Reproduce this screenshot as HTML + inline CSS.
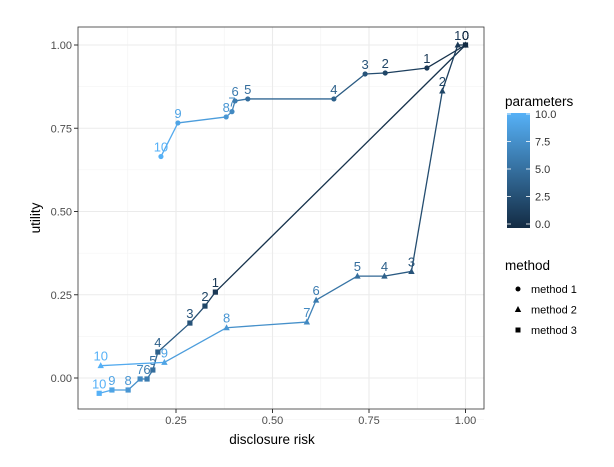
<!DOCTYPE html>
<html><head><meta charset="utf-8"><style>
body{margin:0;background:#fff;font-family:"Liberation Sans",sans-serif}
svg text{font-family:"Liberation Sans",sans-serif}
</style></head><body>
<svg width="614" height="462" id="c"></svg>
<script>
const params=[10,9,8,7,6,5,4,3,2,1,0];
const m1x=[0.211,0.255,0.380,0.395,0.403,0.436,0.659,0.740,0.792,0.900,1.0];
const m1y=[0.665,0.766,0.784,0.800,0.832,0.838,0.838,0.913,0.916,0.931,1.0];
const m2x=[0.055,0.220,0.381,0.589,0.613,0.720,0.790,0.860,0.940,0.980,1.0];
const m2y=[0.037,0.047,0.151,0.168,0.234,0.306,0.306,0.320,0.862,1.0,1.0];
const m3x=[0.051,0.084,0.126,0.157,0.175,0.190,0.203,0.286,0.325,0.352,1.0];
const m3y=[-0.046,-0.036,-0.036,-0.003,-0.003,0.024,0.078,0.165,0.216,0.258,1.0];
const xTicks=[0.25,0.5,0.75,1.0];
const yTicks=[0,0.25,0.5,0.75,1.0];
const xLabels=["0.25","0.50","0.75","1.00"];
const yLabels=["0.00","0.25","0.50","0.75","1.00"];
const cTicks=["0.0","2.5","5.0","7.5","10.0"];
const L=78,R=484,T=27,B=409;
const X=v=>79.5+386*v, Y=v=>378-333*v;
const NS="http://www.w3.org/2000/svg";
const svg=document.getElementById('c');
function mk(t,a,p){const e=document.createElementNS(NS,t);for(const k in a)e.setAttribute(k,a[k]);(p||svg).appendChild(e);return e;}
function col(p){const t=p/10;const a=[0x13,0x2B,0x43],b=[0x56,0xB1,0xF7];return `rgb(${a.map((v,i)=>Math.round(v+(b[i]-v)*t)).join(',')})`;}
let e=mk('rect',{x:L,y:T,width:R-L,height:B-T,fill:'#fff'});

// minor grid
for(let v=0.125;v<1.1;v+=0.25){mk('line',{x1:X(v),x2:X(v),y1:T,y2:B,stroke:'#f2f2f2','stroke-width':0.6});}
for(let v=-0.125;v<1.1;v+=0.25){mk('line',{x1:L,x2:R,y1:Y(v),y2:Y(v),stroke:'#f2f2f2','stroke-width':0.6});}
xTicks.forEach((v,i)=>{mk('line',{x1:X(v),x2:X(v),y1:T,y2:B,stroke:'#ebebeb','stroke-width':1.1});
 mk('line',{x1:X(v),x2:X(v),y1:B,y2:B+4,stroke:'#333'});
 const t=mk('text',{x:X(v),y:B+15,'text-anchor':'middle','font-size':11,fill:'#4d4d4d'});t.textContent=xLabels[i];
 });
yTicks.forEach((v,i)=>{mk('line',{x1:L,x2:R,y1:Y(v),y2:Y(v),stroke:'#ebebeb','stroke-width':1.1});
 mk('line',{x1:L-4,x2:L,y1:Y(v),y2:Y(v),stroke:'#333'});
 const t=mk('text',{x:L-6,y:Y(v)+4,'text-anchor':'end','font-size':11,fill:'#4d4d4d'});t.textContent=yLabels[i];
 });
e=mk('rect',{x:L,y:T,width:R-L,height:B-T,fill:'none',stroke:'#333','stroke-width':0.8});
function series(xs,ys,shape,name){
 for(let i=0;i<xs.length-1;i++){
  mk('line',{x1:X(xs[i]),y1:Y(ys[i]),x2:X(xs[i+1]),y2:Y(ys[i+1]),stroke:col((params[i]+params[i+1])/2),'stroke-width':1.3});
 }
 xs.forEach((v,i)=>{const cx=X(v),cy=Y(ys[i]),c=col(params[i]);let m;
  if(shape==='c')m=mk('circle',{cx,cy,r:2.6,fill:c});
  else if(shape==='t')m=mk('polygon',{points:`${cx},${cy-3.5} ${cx-3.2},${cy+2.5} ${cx+3.2},${cy+2.5}`,fill:c});
  else m=mk('rect',{x:cx-2.6,y:cy-2.6,width:5.2,height:5.2,fill:c});
  
  const t=mk('text',{x:cx,y:cy-5,'text-anchor':'middle','font-size':13,fill:c});t.textContent=params[i];
  });
}
series(m3x,m3y,'s','method-3');
series(m2x,m2y,'t','method-2');
series(m1x,m1y,'c','method-1');
let t=mk('text',{x:272,y:444,'text-anchor':'middle','font-size':13.5,fill:'#000'});t.textContent='disclosure risk';

t=mk('text',{x:40,y:218,'text-anchor':'middle','font-size':13.5,fill:'#000',transform:'rotate(-90 40 218)'});t.textContent='utility';

// color legend
t=mk('text',{x:505,y:106,'font-size':13.5});t.textContent='parameters';

const g=mk('defs',{});const lg=mk('linearGradient',{id:'gr',x1:0,y1:1,x2:0,y2:0},g);
mk('stop',{offset:0,'stop-color':col(0)},lg);mk('stop',{offset:1,'stop-color':col(10)},lg);
e=mk('rect',{x:507,y:113,width:23,height:115,fill:'url(#gr)'});

cTicks.forEach((s,i)=>{const y=224-i*27.5;
 mk('line',{x1:507,x2:511,y1:y,y2:y,stroke:'#fff','stroke-width':0.8});mk('line',{x1:526,x2:530,y1:y,y2:y,stroke:'#fff','stroke-width':0.8});
 const tt=mk('text',{x:535,y:y+4,'font-size':11,fill:'#333'});tt.textContent=s;
 });
t=mk('text',{x:505,y:270,'font-size':13.5});t.textContent='method';

['method 1','method 2','method 3'].forEach((s,i)=>{const y=289+i*20.5,cx=518;
 if(i===0)mk('circle',{cx,cy:y,r:2.5,fill:'#000'});
 else if(i===1)mk('polygon',{points:`${cx},${y-3.5} ${cx-3.2},${y+2.5} ${cx+3.2},${y+2.5}`,fill:'#000'});
 else mk('rect',{x:cx-2.5,y:y-2.5,width:5,height:5,fill:'#000'});
 const tt=mk('text',{x:531,y:y+4,'font-size':11,fill:'#000'});tt.textContent=s;
 });
</script>
</body></html>
